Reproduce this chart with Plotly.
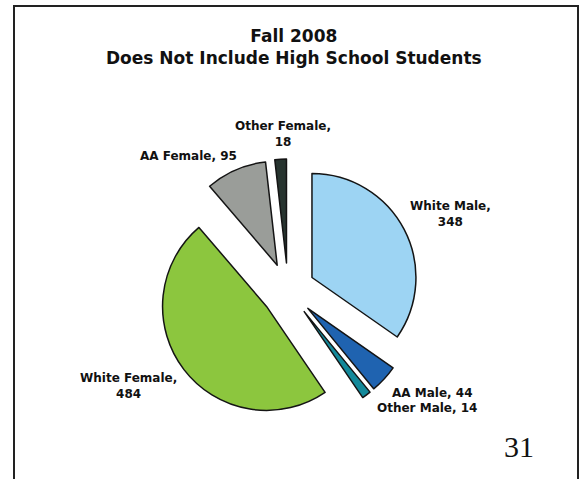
import plotly.graph_objects as go

# Enrollment by group, Fall 2008 (high school students excluded)
labels = ["White Male", "AA Male", "Other Male", "White Female", "AA Female", "Other Female"]
values = [348, 44, 14, 484, 95, 18]
colors = ["#9dd4f3", "#1f63b0", "#13899a", "#8cc63e", "#9a9d99", "#27342f"]

# separator between name and count for each slice label
separators = [",<br>", ", ", ", ", ",<br>", ", ", ",<br>"]
# label centres in pixels (x from left, y from top)
label_px = [(450, 214), (432, 393), (427, 408), (128, 386), (188, 156), (283, 134)]

W, H = 585, 479
cx, cy, half = 288, 290, 131

fig = go.Figure(go.Pie(
    labels=labels,
    values=values,
    sort=False,
    direction="clockwise",
    rotation=0,
    pull=[0.26] * len(values),
    marker=dict(colors=colors, line=dict(color="#141414", width=1.5)),
    textinfo="none",
    hoverinfo="label+value",
    showlegend=False,
    domain=dict(x=[(cx - half) / W, (cx + half) / W],
                y=[1 - (cy + half) / H, 1 - (cy - half) / H]),
))

annotations = []
for lab, val, sep, (px, py) in zip(labels, values, separators, label_px):
    annotations.append(dict(
        text=f"<b>{lab}{sep}{val}</b>", x=px / W, y=1 - py / H, xref="paper", yref="paper",
        xanchor="center", yanchor="middle", showarrow=False, align="center",
        font=dict(family="DejaVu Sans", size=12, color="#111111"),
    ))

annotations.append(dict(
    text="<b>Fall 2008<br>Does Not Include High School Students</b>",
    x=294 / W, y=1 - 47 / H, xref="paper", yref="paper",
    xanchor="center", yanchor="middle", showarrow=False, align="center",
    font=dict(family="DejaVu Sans", size=17, color="#111111"),
))
annotations.append(dict(
    text="31", x=519 / W, y=1 - 446 / H, xref="paper", yref="paper",
    xanchor="center", yanchor="middle", showarrow=False,
    font=dict(family="Liberation Serif", size=30, color="#111111"),
))

fig.update_layout(
    width=W, height=H,
    margin=dict(l=0, r=0, t=0, b=0),
    paper_bgcolor="white",
    annotations=annotations,
    shapes=[dict(type="rect", xref="paper", yref="paper",
                 x0=14 / W, x1=578 / W, y0=-0.05, y1=1 - 6 / H,
                 line=dict(color="#222222", width=2))],
)

fig.write_html("out.html")
